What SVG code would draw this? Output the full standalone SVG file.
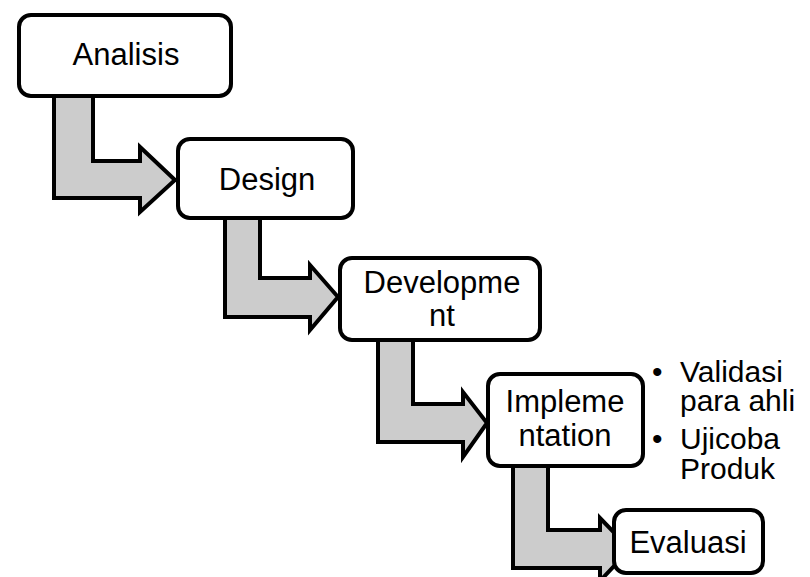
<svg xmlns="http://www.w3.org/2000/svg" width="810" height="577" viewBox="0 0 810 577">
<style>
.arrow{fill:#cccccc;stroke:#000;stroke-width:4;stroke-linejoin:miter}
.box{fill:#fff;stroke:#000;stroke-width:4}
text{font-family:"Liberation Sans",Arial,sans-serif;font-size:31px;fill:#000}
.c{text-anchor:middle}
.n{font-size:30px}
</style>
<rect width="810" height="577" fill="#fff"/>
<g id="connectors">
<path class="arrow" d="M54,96 L54,198 L140,198 L140,212 L175,180 L140,147 L140,161 L93,161 L93,96 Z"/>
<path class="arrow" d="M225,218 L225,317 L310,317 L310,330 L338,297 L310,265 L310,278 L260,278 L260,218 Z"/>
<path class="arrow" d="M378,340 L378,442 L463,442 L463,457 L487,423 L463,392 L463,404 L413,404 L413,340 Z"/>
<path class="arrow" d="M513,466 L513,568 L600,568 L600,581 L630,549 L600,518 L600,530 L548,530 L548,466 Z"/>
</g>
<g id="analisis">
<rect class="box" x="19" y="15" width="212" height="81" rx="12"/>
<text class="c" x="126" y="65">Analisis</text>
</g>
<g id="design">
<rect class="box" x="178" y="139" width="175" height="79" rx="12"/>
<text class="c" x="267" y="190">Design</text>
</g>
<g id="development">
<rect class="box" x="340" y="258" width="200" height="82" rx="12"/>
<text class="c" x="442" y="293">Developme<tspan x="442" dy="33">nt</tspan></text>
</g>
<g id="implementation">
<rect class="box" x="488" y="374" width="155" height="92" rx="12"/>
<text class="c" x="565" y="412">Impleme<tspan x="565" dy="34">ntation</tspan></text>
</g>
<g id="evaluasi">
<rect class="box" x="614" y="510" width="149" height="63" rx="12"/>
<text class="c" x="688" y="553">Evaluasi</text>
</g>
<g id="notes">
<text class="n" x="652" y="382">•<tspan x="680">Validasi</tspan><tspan x="680" dy="29">para ahli</tspan></text>
<text class="n" x="652" y="449">•<tspan x="680">Ujicoba</tspan><tspan x="680" dy="30">Produk</tspan></text>
</g>
</svg>
